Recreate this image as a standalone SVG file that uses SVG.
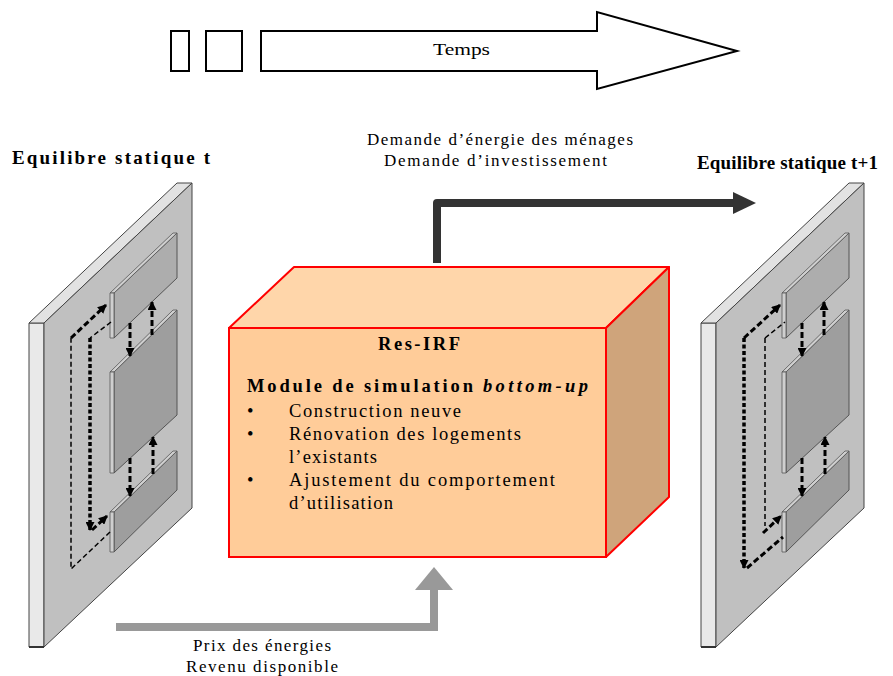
<svg xmlns="http://www.w3.org/2000/svg" xmlns:xlink="http://www.w3.org/1999/xlink" width="893" height="676" viewBox="0 0 893 676">
<style>
  .serif { font-family: "Liberation Serif", "Times New Roman", serif; fill: #000; }
  .lbl { font-size: 17px; }
  .title { font-size: 19px; font-weight: bold; }
  .boxt { font-size: 18.5px; }
  .edge { stroke: #444; stroke-width: 1; stroke-linejoin: round; }
  .pface { fill: #c0c0c0; }
  .pstrip { fill: #e9e9e9; }
  .ptop { fill: #e2e2e2; }
  .pan1 { fill: #adadad; stroke: #555; stroke-width: 1; }
  .pan2 { fill: #9e9e9e; stroke: #555; stroke-width: 1; }
  .panside { fill: #cfcfcf; stroke: #555; stroke-width: 0.8; }
  .thin { fill: none; stroke: #000; stroke-width: 1.5; stroke-dasharray: 5 3; }
  .thick { fill: none; stroke: #000; stroke-width: 3; stroke-dasharray: 6 3; }
  .dots { fill: none; stroke: #000; stroke-width: 3.5; stroke-dasharray: 4 2.5; }
</style>
<defs>
  <marker id="ah" markerUnits="userSpaceOnUse" markerWidth="9" markerHeight="9" refX="8" refY="4.5" orient="auto">
    <path d="M0,0 L9,4.5 L0,9 z" fill="#000"/>
  </marker>
  <g id="plateBody">
    <polygon class="pstrip edge" points="29,323 44,323 44,647 29,647"/>
    <polygon class="ptop edge" points="29,323 177,183 192,183 44,323"/>
    <polygon class="pface edge" points="44,323 192,183 192,508 44,647"/>
    <line x1="29" y1="647" x2="44" y2="647" stroke="#333" stroke-width="2"/>
    <polygon class="pan1" points="114,293 177,233 177,278 114,338"/>
    <polygon class="panside" points="110,293 173,233 177,233 114,293"/>
    <polygon class="panside" points="110,293 114,293 114,338 110,338"/>
    <polygon class="pan2" points="114,372 177,310 177,415 114,473"/>
    <polygon class="panside" points="110,372 173,310 177,310 114,372"/>
    <polygon class="panside" points="110,372 114,372 114,473 110,473"/>
    <polygon class="pan2" points="114,512 177,451 177,490 114,552"/>
    <polygon class="panside" points="110,512 173,451 177,451 114,512"/>
    <polygon class="panside" points="110,512 114,512 114,552 110,552"/>
    <line class="thick" x1="130" y1="323" x2="130" y2="356" marker-end="url(#ah)"/>
    <line class="thick" x1="152" y1="335" x2="152" y2="302" marker-end="url(#ah)"/>
    <line class="thick" x1="130" y1="458" x2="130" y2="496" marker-end="url(#ah)"/>
    <line class="thick" x1="153" y1="474" x2="153" y2="437" marker-end="url(#ah)"/>
  </g>
</defs>

<g id="timeline">
  <rect x="171" y="31" width="18" height="40" fill="#fff" stroke="#000" stroke-width="2"/>
  <rect x="206" y="31" width="36" height="40" fill="#fff" stroke="#000" stroke-width="2"/>
  <polygon points="261,31 597,31 597,12 737,51 597,89 597,71 261,71" fill="#fff" stroke="#000" stroke-width="2" stroke-linejoin="miter"/>
  <text class="serif lbl" x="433" y="55" textLength="57" lengthAdjust="spacingAndGlyphs">Temps</text>
</g>

<g id="plate-t">
  <use xlink:href="#plateBody"/>
  <path class="thin" d="M110,532 L71,569 L71,338"/>
  <path class="thick" d="M71,338 L106,305" marker-end="url(#ah)"/>
  <path class="thin" d="M111,322 L90,338"/>
  <path class="dots" d="M90,338 L90,530" marker-end="url(#ah)"/>
  <path class="thick" d="M92,530 L107,516" marker-end="url(#ah)"/>
  <text class="serif title" x="12" y="164" textLength="198" lengthAdjust="spacing">Equilibre statique t</text>
</g>

<g id="plate-t1">
  <use xlink:href="#plateBody" transform="translate(672,0)"/>
  <path class="dots" d="M744,338 L744,568" marker-end="url(#ah)"/>
  <path class="thick" d="M744,338 L780,305" marker-end="url(#ah)"/>
  <path class="thick" d="M747,568 L783,537"/>
  <path class="thin" d="M765,338 L765,526"/>
  <path class="thin" d="M765,338 L785,322"/>
  <path class="thick" d="M763,533 L781,516" marker-end="url(#ah)"/>
  <text class="serif title" x="697" y="169" textLength="181" lengthAdjust="spacing">Equilibre statique t+1</text>
</g>

<g id="resirf">
  <polygon points="229,328 294,267 669,267 606,328" fill="#ffd6aa" stroke="#ff0000" stroke-width="2" stroke-linejoin="round"/>
  <polygon points="606,328 669,267 669,497 606,557" fill="#cfa47b" stroke="#ff0000" stroke-width="2" stroke-linejoin="round"/>
  <rect x="229" y="328" width="377" height="229" fill="#ffcc99" stroke="#ff0000" stroke-width="2"/>
  <text class="serif boxt" x="378" y="350" font-weight="bold" textLength="82" lengthAdjust="spacing">Res-IRF</text>
  <text class="serif boxt" x="247" y="392" font-weight="bold" textLength="226" lengthAdjust="spacing">Module de simulation</text>
  <text class="serif boxt" x="483" y="392" font-weight="bold" font-style="italic" textLength="105" lengthAdjust="spacing">bottom-up</text>
  <text class="serif boxt" x="247" y="417">•</text>
  <text class="serif boxt" x="289" y="417" textLength="172" lengthAdjust="spacing">Construction neuve</text>
  <text class="serif boxt" x="247" y="440">•</text>
  <text class="serif boxt" x="289" y="440" textLength="232" lengthAdjust="spacing">Rénovation des logements</text>
  <text class="serif boxt" x="289" y="463" textLength="88" lengthAdjust="spacing">l’existants</text>
  <text class="serif boxt" x="247" y="486">•</text>
  <text class="serif boxt" x="289" y="486" textLength="266" lengthAdjust="spacing">Ajustement du comportement</text>
  <text class="serif boxt" x="289" y="509" textLength="104" lengthAdjust="spacing">d’utilisation</text>
</g>

<g id="connectors">
  <path d="M437,263 L437,203 L735,203" fill="none" stroke="#333" stroke-width="8" stroke-linejoin="round"/>
  <polygon points="733,192 756,203 733,214" fill="#333"/>
  <path d="M116,627 L434,627 L434,589" fill="none" stroke="#999" stroke-width="8"/>
  <polygon points="415,590 453,590 434,567" fill="#999"/>
</g>

<g id="labels">
  <text class="serif lbl" x="367" y="145" textLength="266" lengthAdjust="spacing">Demande d’énergie des ménages</text>
  <text class="serif lbl" x="384" y="166" textLength="223" lengthAdjust="spacing">Demande d’investissement</text>
  <text class="serif lbl" x="193" y="651" textLength="138" lengthAdjust="spacing">Prix des énergies</text>
  <text class="serif lbl" x="186" y="672" textLength="152" lengthAdjust="spacing">Revenu disponible</text>
</g>
</svg>
